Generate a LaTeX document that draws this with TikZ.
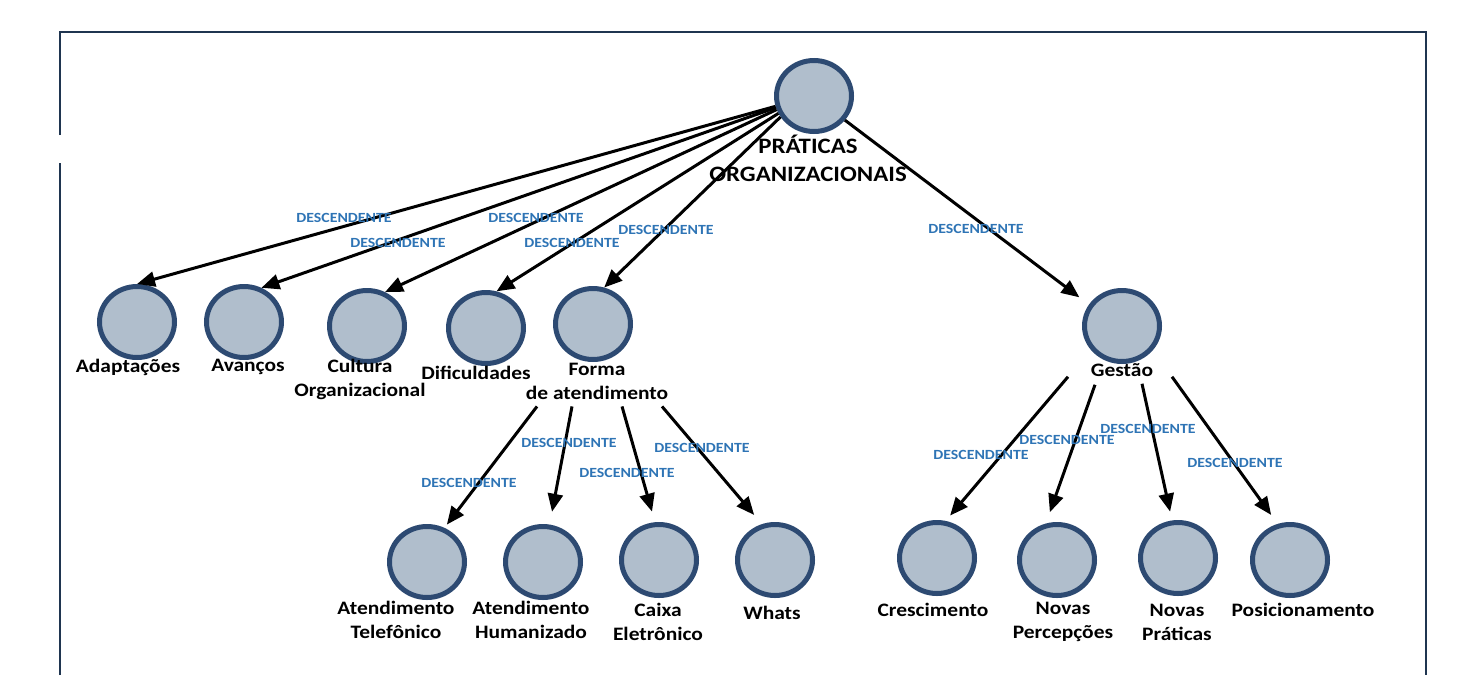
\documentclass[tikz,border=0pt]{standalone}
\usepackage{fontspec}
\setmainfont{Carlito}[FakeStretch=1.13]
\usetikzlibrary{positioning, calc}
\usetikzlibrary{shapes.geometric, arrows.meta}
\definecolor{ringblue}{HTML}{2D4A72}
\definecolor{ringfill}{HTML}{B0BECC}
\definecolor{descblue}{HTML}{2E74B5}
\definecolor{framecol}{HTML}{1F3550}
\tikzset{
	circ/.style={ellipse, draw=ringblue, fill=ringfill, line width=5pt,
		minimum width=75pt, minimum height=71pt, inner sep=0pt},
	lbl/.style={font=\fontsize{19}{24}\selectfont\bfseries, align=center, inner sep=0pt},
	desc/.style={font=\fontsize{14}{16}\selectfont\bfseries, text=descblue, inner sep=0pt},
	arr/.style={-{Triangle[length=18pt,width=15pt]}, line width=3pt},
}

\begin{document}
\begin{tikzpicture}[x=1pt, y=-1pt]
			\useasboundingbox (0,0) rectangle (1461,675);
			% frame
			\draw[framecol, line width=2.5pt] (60,675) -- (60,163);
			\draw[framecol, line width=2.5pt] (60,135) -- (60,32) -- (1426,32) -- (1426,675);

			% top
			\node[circ] (pr) at (814,96) {};
			\node[lbl, font=\fontsize{22}{28}\selectfont\bfseries] (prT) at (808,158) {PRÁTICAS\\ORGANIZACIONAIS};

			% first row
			\node[circ] (ad) at (137,322) {};
			\node[circ] (av) at (244,322) {};
			\node[circ] (cu) at (367,326) {};
			\node[circ] (di) at (486,328) {};
			\node[circ] (fo) at (593,324) {};
			\node[circ] (ge) at (1122,326) {};
			\node[lbl] (adT) at (128,367) {Adaptações};
			\node[lbl] (avT) at (248,367) {Avanços};
			\node[lbl] (cuT) at (360,379) {Cultura\\Organizacional};
			\node[lbl] (diT) at (476,373) {Dificuldades};
			\node[lbl] (foT) at (597,381) {Forma\\de atendimento};
			\node[lbl] (geT) at (1122,370) {Gestão};

			% second row
			\node[circ] (at) at (427,562) {};
			\node[circ] (ah) at (543,562) {};
			\node[circ] (ce) at (659,560) {};
			\node[circ] (wh) at (775,560) {};
			\node[circ] (cr) at (937,558) {};
			\node[circ] (np) at (1057,560) {};
			\node[circ] (nr) at (1178,558) {};
			\node[circ] (po) at (1290,560) {};
			\node[lbl] (atT) at (396,620) {Atendimento\\Telefônico};
			\node[lbl] (ahT) at (531,620) {Atendimento\\Humanizado};
			\node[lbl] (ceT) at (658,622) {Caixa\\Eletrônico};
			\node[lbl] (whT) at (772,613) {Whats};
			\node[lbl] (crT) at (933,610) {Crescimento};
			\node[lbl] (npT) at (1063,622) {Novas\\Percepções};
			\node[lbl] (nrT) at (1177,622) {Novas\\Práticas};
			\node[lbl] (poT) at (1303,610) {Posicionamento};

			% arrows from the top
			\draw[arr] (pr.195) -- (ad.north);
			\draw[arr] (pr.197) -- (av.63);
			\draw[arr] (pr.200) -- (cu.62);
			\draw[arr] (pr.206) -- (di.74);
			\draw[arr] (pr.212) -- (fo.73);
			\draw[arr, shorten >=12pt] (pr.-38) -- (ge.147);

			\draw[arr, shorten >=4pt] ($(foT.south)+(-60,7)$) -- (at.63);
			\draw[arr, shorten >=13pt] ($(foT.south)+(-25,7)$) -- (ah.80);
			\draw[arr, shorten >=11pt] ($(foT.south)+(25,7)$) -- (ce.96);
			\draw[arr, shorten >=12pt] ($(foT.south)+(65,7)$) -- (wh.110);

			\draw[arr, shorten >=7pt] ($(geT.south)+(-54,0)$) -- (cr.77);
			\draw[arr, shorten >=12pt] ($(geT.south)+(-27,8)$) -- (np.107);
			\draw[arr, shorten >=9pt] ($(geT.south)+(20,7)$) -- (nr.99);
			\draw[arr, shorten >=11pt] ($(geT.south)+(50,0)$) -- (po.109);

			% labels
			\node[desc] (d1) at (344,218) {DESCENDENTE};
			\node[desc] (d2) at (398,243) {DESCENDENTE};
			\node[desc] (d3) at (536,218) {DESCENDENTE};
			\node[desc] (d4) at (572,243) {DESCENDENTE};
			\node[desc] (d5) at (666,230) {DESCENDENTE};
			\node[desc] (d6) at (976,229) {DESCENDENTE};
			\node[desc] (d7) at (469,483) {DESCENDENTE};
			\node[desc] (d8) at (569,443) {DESCENDENTE};
			\node[desc] (d9) at (627,473) {DESCENDENTE};
			\node[desc] (d10) at (702,448) {DESCENDENTE};
			\node[desc] (d11) at (981,455) {DESCENDENTE};
			\node[desc] (d12) at (1067,440) {DESCENDENTE};
			\node[desc] (d13) at (1148,429) {DESCENDENTE};
			\node[desc] (d14) at (1235,463) {DESCENDENTE};
\end{tikzpicture}
\end{document}
